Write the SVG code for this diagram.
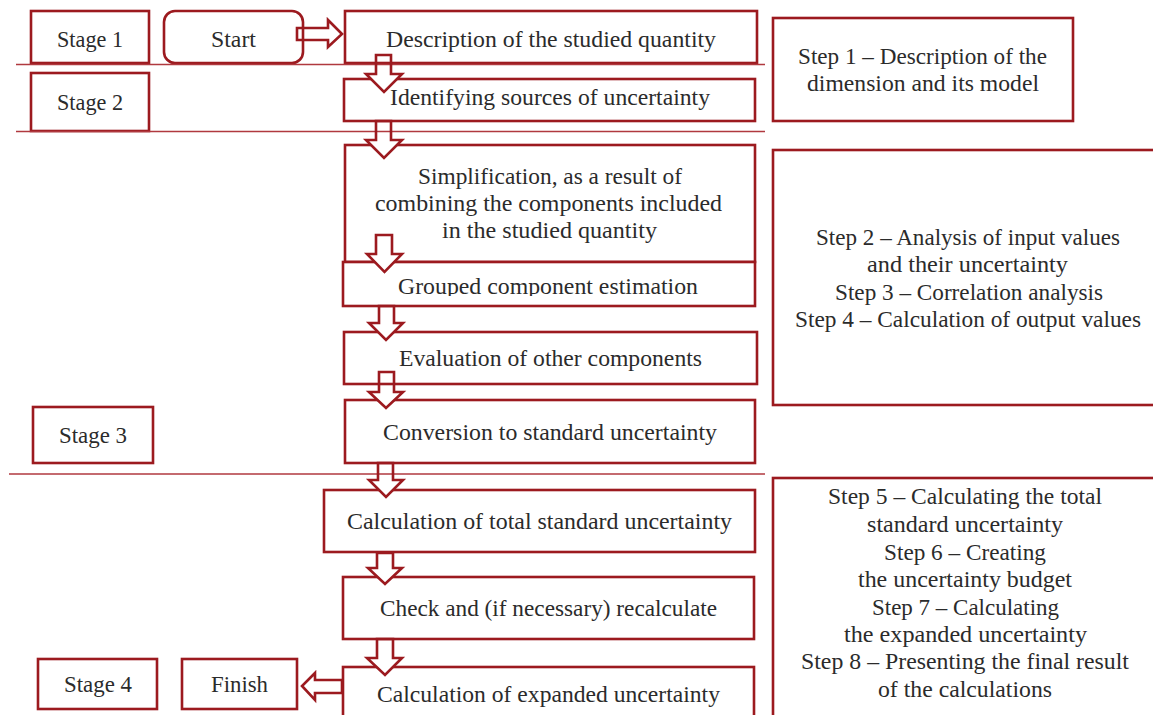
<svg xmlns="http://www.w3.org/2000/svg" width="1153" height="715" viewBox="0 0 1153 715">
<style>
.b{fill:#fff;stroke:#9c1a1f;stroke-width:2.6}
.sep{stroke:#b0393f;stroke-width:1.4;fill:none}
.ar{fill:none;stroke:#9c1a1f;stroke-width:2.6;stroke-linejoin:miter}
.hd{fill:#fff;stroke:none}
text{font-family:"Liberation Serif","Times New Roman",serif;font-size:23px;fill:#2b2b2b;text-anchor:middle}
</style>
<defs>
<clipPath id="cg"><rect x="340" y="260" width="420" height="36"/></clipPath>
</defs>
<rect width="1153" height="715" fill="#fff"/>
<g id="stage1"><rect class="b" x="31" y="11" width="118" height="52"/><text x="90" y="47" textLength="66" lengthAdjust="spacingAndGlyphs">Stage 1</text></g>
<g id="start"><rect class="b" x="164" y="11" width="139" height="52" rx="11"/><text x="233.5" y="47" textLength="45" lengthAdjust="spacingAndGlyphs">Start</text></g>
<g id="description"><rect class="b" x="345" y="11" width="412" height="52"/><text x="551" y="47" textLength="330" lengthAdjust="spacingAndGlyphs">Description of the studied quantity</text></g>
<g id="stage2"><rect class="b" x="31" y="73" width="118" height="58"/><text x="90" y="110" textLength="66" lengthAdjust="spacingAndGlyphs">Stage 2</text></g>
<g id="identifying"><rect class="b" x="344" y="79" width="411" height="42"/><text x="550" y="105" textLength="320" lengthAdjust="spacingAndGlyphs">Identifying sources of uncertainty</text></g>
<g id="simplification"><rect class="b" x="345" y="145" width="410" height="117"/>
<text x="550" y="184" textLength="264" lengthAdjust="spacingAndGlyphs">Simplification, as a result of</text>
<text x="548.5" y="211" textLength="347" lengthAdjust="spacingAndGlyphs">combining the components included</text>
<text x="549.5" y="238" textLength="215" lengthAdjust="spacingAndGlyphs">in the studied quantity</text></g>
<g id="grouped"><rect class="b" x="343" y="262" width="412" height="44"/><text x="548" y="294" textLength="300" lengthAdjust="spacingAndGlyphs" clip-path="url(#cg)">Grouped component estimation</text></g>
<g id="evaluation"><rect class="b" x="344" y="332" width="413" height="52"/><text x="550.5" y="366" textLength="303" lengthAdjust="spacingAndGlyphs">Evaluation of other components</text></g>
<g id="stage3"><rect class="b" x="33" y="407" width="120" height="56"/><text x="93" y="443" textLength="68" lengthAdjust="spacingAndGlyphs">Stage 3</text></g>
<g id="conversion"><rect class="b" x="345" y="400" width="410" height="63"/><text x="550" y="440" textLength="334" lengthAdjust="spacingAndGlyphs">Conversion to standard uncertainty</text></g>
<g id="calc-total"><rect class="b" x="324" y="490" width="431" height="62"/><text x="539.5" y="529" textLength="385" lengthAdjust="spacingAndGlyphs">Calculation of total standard uncertainty</text></g>
<g id="check"><rect class="b" x="343" y="577" width="411" height="62"/><text x="548.5" y="616" textLength="337" lengthAdjust="spacingAndGlyphs">Check and (if necessary) recalculate</text></g>
<g id="calc-expanded"><rect class="b" x="343" y="667" width="411" height="70"/><text x="548.5" y="702" textLength="343" lengthAdjust="spacingAndGlyphs">Calculation of expanded uncertainty</text></g>
<g id="stage4"><rect class="b" x="38" y="659" width="119" height="50"/><text x="98" y="692" textLength="68" lengthAdjust="spacingAndGlyphs">Stage 4</text></g>
<g id="finish"><rect class="b" x="182" y="659" width="115" height="50"/><text x="239.5" y="692" textLength="57" lengthAdjust="spacingAndGlyphs">Finish</text></g>
<g id="step1"><rect class="b" x="773" y="18" width="300" height="103"/>
<text x="922.5" y="64" textLength="249" lengthAdjust="spacingAndGlyphs">Step 1 – Description of the</text>
<text x="923" y="91" textLength="232" lengthAdjust="spacingAndGlyphs">dimension and its model</text></g>
<g id="steps2-4"><rect class="b" x="773" y="150" width="392" height="255"/>
<text x="968" y="245" textLength="304" lengthAdjust="spacingAndGlyphs">Step 2 – Analysis of input values</text>
<text x="967.5" y="272" textLength="201" lengthAdjust="spacingAndGlyphs">and their uncertainty</text>
<text x="969" y="300" textLength="268" lengthAdjust="spacingAndGlyphs">Step 3 – Correlation analysis</text>
<text x="968" y="327" textLength="346" lengthAdjust="spacingAndGlyphs">Step 4 – Calculation of output values</text></g>
<g id="steps5-8"><rect class="b" x="773" y="478" width="392" height="260"/>
<text x="965" y="504" textLength="274" lengthAdjust="spacingAndGlyphs">Step 5 – Calculating the total</text>
<text x="965" y="532" textLength="196" lengthAdjust="spacingAndGlyphs">standard uncertainty</text>
<text x="965" y="560" textLength="162" lengthAdjust="spacingAndGlyphs">Step 6 – Creating</text>
<text x="965" y="587" textLength="214" lengthAdjust="spacingAndGlyphs">the uncertainty budget</text>
<text x="965.5" y="615" textLength="187" lengthAdjust="spacingAndGlyphs">Step 7 – Calculating</text>
<text x="965.5" y="642" textLength="243" lengthAdjust="spacingAndGlyphs">the expanded uncertainty</text>
<text x="965" y="669" textLength="328" lengthAdjust="spacingAndGlyphs">Step 8 – Presenting the final result</text>
<text x="965" y="697" textLength="174" lengthAdjust="spacingAndGlyphs">of the calculations</text></g>
<g id="separators">
<line class="sep" x1="16" y1="64.5" x2="765" y2="64.5"/>
<line class="sep" x1="16" y1="131.5" x2="765" y2="131.5"/>
<line class="sep" x1="9" y1="474" x2="765" y2="474"/>
</g>
<g id="connectors">
<polygon class="hd" points="328,21 341,34 328,46"/>
<polygon class="ar" points="297,28 328,28 328,20 342,34 328,47 328,40 297,40"/>
<polygon class="hd" points="316,674 303,686 316,699"/>
<polygon class="ar" points="342,680 315,680 315,673 302,686 315,700 315,693 342,693"/>
<polygon class="hd" points="367,74 401,74 384,91"/>
<polygon class="ar" points="376,55 391,55 391,74 402,74 384,92 366,74 376,74"/>
<polygon class="hd" points="367,140 401,140 384,157"/>
<polygon class="ar" points="376,121 391,121 391,140 402,140 384,158 366,140 376,140"/>
<polygon class="hd" points="368,254 401,254 384.5,271"/>
<polygon class="ar" points="376,235 392,235 392,254 402,254 384.5,272 367,254 376,254"/>
<polygon class="hd" points="370,323 402,323 386,339"/>
<polygon class="ar" points="379,306 394,306 394,323 403,323 386,340 369,323 379,323"/>
<polygon class="hd" points="370,392 402,392 386,407"/>
<polygon class="ar" points="379,372 394,372 394,392 403,392 386,408 369,392 379,392"/>
<polygon class="hd" points="370,480 402,480 386,496"/>
<polygon class="ar" points="378,463 393,463 393,480 403,480 386,497 369,480 378,480"/>
<polygon class="hd" points="369,568 401,568 385,583"/>
<polygon class="ar" points="377,553 393,553 393,568 402,568 385,584 368,568 377,568"/>
<polygon class="hd" points="368,658 401,658 385,674"/>
<polygon class="ar" points="377,639 393,639 393,658 402,658 385,675 367,658 377,658"/>
</g>
</svg>
